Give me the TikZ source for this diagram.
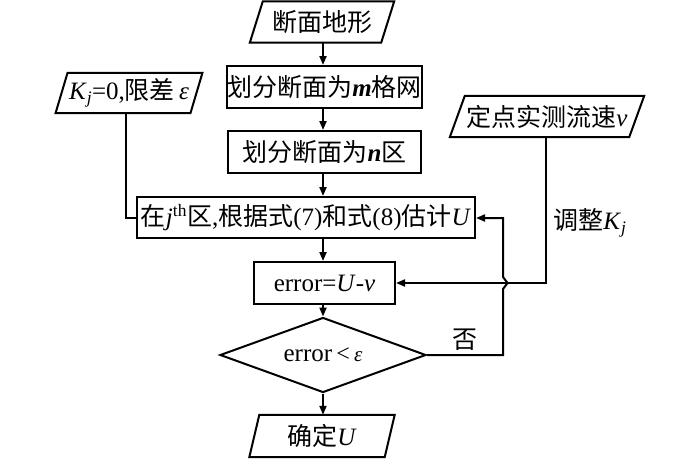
\documentclass[tikz,border=0pt]{standalone}
\usepackage{fontspec}
\setmainfont{Liberation Serif}
\newfontfamily\cjk{Noto Sans CJK SC}
\usetikzlibrary{arrows.meta,shapes.geometric,calc}
\newcommand{\pgram}[2]{\draw[ln] ([xshift=-#2]#1.south west) -- ([xshift=#2]#1.north west) -- ([xshift=#2]#1.north east) -- ([xshift=-#2]#1.south east) -- cycle;}
\begin{document}
\begin{tikzpicture}[x=1pt,y=-1pt,
  ln/.style={line width=2pt,line join=miter},
  arr/.style={line width=2pt,-{Triangle[length=9pt,width=7pt]}},
  box/.style={draw,line width=2pt,inner sep=0pt,minimum height=42pt,font=\fontsize{25}{28}\selectfont},
  io/.style={inner sep=0pt,minimum height=41pt,font=\fontsize{25}{28}\selectfont},
  dia/.style={draw,line width=2pt,diamond,aspect=2.75,inner sep=0pt,minimum width=206pt,minimum height=75pt,font=\fontsize{25}{28}\selectfont},
  lab/.style={inner sep=0pt,font=\fontsize{25}{28}\selectfont}]
\useasboundingbox (0,0) rectangle (700,458);
\node[io,minimum width=131pt] (topo) at (322,22) {{\cjk 断面地形}};
\pgram{topo}{6.5pt}
\node[box,minimum width=193pt] (grid) at (324.5,87) {{\cjk 划分断面为}\textbf{\textit{m}}{\cjk 格网}};
\node[box,minimum width=193pt] (zone) at (324.5,152) {{\cjk 划分断面为}\textbf{\textit{n}}{\cjk 区}};
\node[box,minimum width=338pt,minimum height=41pt] (est) at (306,217.5) {{\cjk 在}\textit{j}\textsuperscript{th}{\cjk 区},{\cjk 根据式}(7){\cjk 和式}(8){\cjk 估计}\textit{U}};
\node[box,minimum width=141pt] (err) at (324.5,283) {error=\textit{U}-\textit{v}};
\node[dia] (dec) at (323,355) {error\,{\fontsize{24}{26}\selectfont<}\,{\fontsize{21}{24}\selectfont\textit{ε}}};
\node[io,minimum width=135pt,minimum height=42pt] (res) at (322,436) {{\cjk 确定}\textit{U}};
\pgram{res}{5pt}
\node[io,minimum width=134.5pt,minimum height=40pt] (kj) at (129,93) {\textit{K}\textsubscript{\textit{j}}=0,{\cjk 限差}\,\textit{ε}};
\pgram{kj}{6pt}
\node[io,minimum width=179pt] (vel) at (547,116.5) {{\cjk 定点实测流速}\textit{v}};
\pgram{vel}{7.5pt}
\node[lab] (adj) at (590,223) {{\cjk 调整}\textit{K}\textsubscript{\textit{j}}};
\node[lab] (no) at (465,340) {{\cjk 否}};
% main flow
\draw[arr] (topo.south -| 323,0) -- (grid.north -| 323,0);
\draw[arr] (grid.south -| 323,0) -- (zone.north -| 323,0);
\draw[arr] (zone.south -| 323,0) -- (est.north -| 323,0);
\draw[arr] (est.south -| 323,0) -- (err.north -| 323,0);
\draw[arr] (err.south -| 323,0) -- (dec.north);
\draw[arr] (dec.south) -- (res.north -| 323,0);
% K_j input
\coordinate (kjc) at (126,217.5);
\draw[ln] (kj.south -| kjc) -- (kjc) -- (est.west);
% velocity input
\coordinate (vc) at (546,283);
\draw[arr] (vel.south -| vc) -- (vc) -- (err.east);
% feedback with jump
\coordinate (fb1) at (503,355);
\coordinate (fb2) at (503,218);
\draw[arr] (dec.east) -- (fb1) -- (503,289) -- (507.5,283) -- (503,277) -- (fb2) -- (est.east |- fb2);
\end{tikzpicture}
\end{document}
